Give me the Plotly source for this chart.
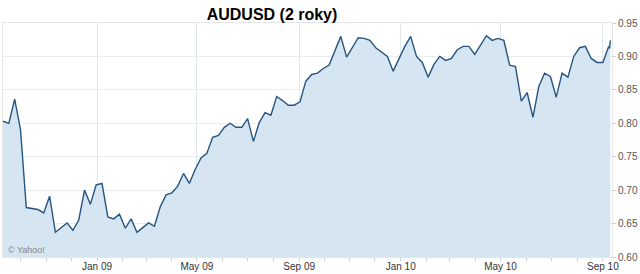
import pandas as pd
import plotly.graph_objects as go

# weekly closes
weekly_values = [
    0.803, 0.800, 0.836, 0.791, 0.674, 0.673, 0.671, 0.666, 0.691, 0.637,
    0.644, 0.651, 0.640, 0.655, 0.700, 0.679, 0.708, 0.710, 0.660, 0.657,
    0.664, 0.643, 0.657, 0.637, 0.644, 0.651, 0.646, 0.675, 0.693, 0.696,
    0.706, 0.725, 0.710, 0.731, 0.748, 0.755, 0.779, 0.782, 0.794, 0.800,
    0.794, 0.794, 0.807, 0.773, 0.801, 0.816, 0.812, 0.840, 0.834, 0.827,
    0.827, 0.832, 0.863, 0.873, 0.875, 0.882, 0.887, 0.910, 0.930, 0.899,
    0.913, 0.928, 0.927, 0.924, 0.913, 0.907, 0.900, 0.878, 0.896, 0.915,
    0.930, 0.900, 0.891, 0.869, 0.888, 0.900, 0.894, 0.897, 0.910, 0.915,
    0.915, 0.903, 0.917, 0.931, 0.924, 0.927, 0.924, 0.887, 0.885, 0.833,
    0.846, 0.809, 0.855, 0.875, 0.870, 0.839, 0.875, 0.869, 0.900, 0.913,
    0.915, 0.897, 0.891, 0.891, 0.915,
]
weekly_dates = pd.date_range("2008-09-10", periods=len(weekly_values), freq="7D")

last_dates = ["2010-09-09", "2010-09-10"]
last_values = [0.912, 0.924]

dates = list(weekly_dates.strftime("%Y-%m-%d")) + last_dates
values = weekly_values + last_values

x_tick_vals = ["2009-01-01", "2009-05-01", "2009-09-01", "2010-01-01", "2010-05-01", "2010-09-01"]
x_tick_text = ["Jan 09", "May 09", "Sep 09", "Jan 10", "May 10", "Sep 10"]
y_tick_vals = [0.60, 0.65, 0.70, 0.75, 0.80, 0.85, 0.90, 0.95]
y_tick_text = ["0.60", "0.65", "0.70", "0.75", "0.80", "0.85", "0.90", "0.95"]

fig = go.Figure()
fig.add_trace(go.Scatter(
    x=dates, y=values, mode="lines",
    line=dict(color="#27557f", width=1.4),
    fill="tozeroy", fillcolor="#d5e5f1",
    hoverinfo="skip",
))

fig.update_layout(
    width=640, height=274,
    margin=dict(l=2, r=25, t=23, b=16),
    paper_bgcolor="white", plot_bgcolor="white",
    showlegend=False,
    title=dict(text="<b>AUDUSD (2 roky)</b>", x=272 / 640, xanchor="center",
               y=1 - 14.5 / 274, yanchor="middle",
               font=dict(family="Liberation Sans, Arial", size=16, color="#000")),
    font=dict(family="Liberation Sans, Arial", size=10, color="#333"),
)

fig.update_xaxes(
    range=["2008-09-10", "2010-09-12"],
    tickvals=x_tick_vals, ticktext=x_tick_text,
    showgrid=True, gridcolor="#dfe7ee", gridwidth=1,
    ticks="", ticklen=0,
    minor=dict(dtick="M1", tick0="2008-10-01", ticks="outside", ticklen=3,
               tickcolor="#cccccc", showgrid=False),
    showline=True, linecolor="#e6e6e6", mirror=True,
    tickfont=dict(size=10, color="#333"),
    zeroline=False,
)
fig.update_yaxes(
    range=[0.60, 0.95], side="right",
    tickvals=y_tick_vals, ticktext=y_tick_text,
    showgrid=True, gridcolor="#eaeef2", gridwidth=1,
    ticks="outside", ticklen=3, tickcolor="#cccccc",
    showline=True, linecolor="#e6e6e6", mirror=True,
    tickfont=dict(size=10, color="#555"),
    zeroline=False,
)

fig.add_annotation(
    text="© Yahoo!", xref="paper", yref="paper", x=3 / 613, y=7 / 235,
    xanchor="left", yanchor="middle", showarrow=False,
    font=dict(family="Liberation Sans, Arial", size=9, color="#888"),
)

fig.write_html("out.html")
